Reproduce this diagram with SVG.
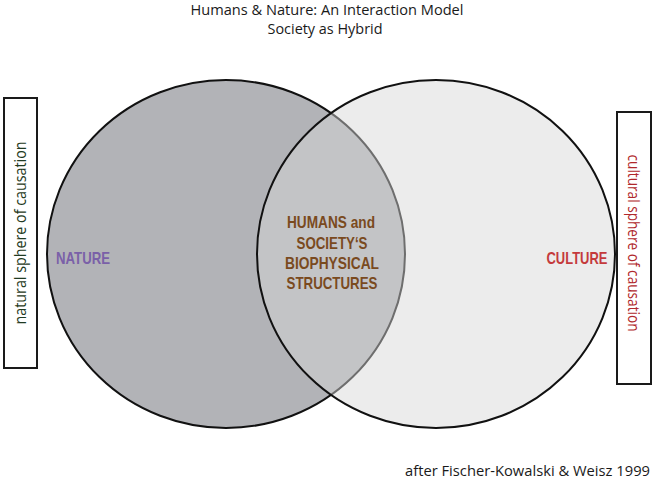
<svg xmlns="http://www.w3.org/2000/svg" width="654" height="481" viewBox="0 0 654 481">
<style>
.t{font-family:"Open Sans","Liberation Sans",sans-serif;font-size:15px;fill:#1a1a1a}
.s{font-family:"Open Sans","Liberation Sans",sans-serif;font-size:16px}
.c{font-family:"Liberation Sans",Arial,sans-serif;font-weight:bold;font-size:17px}
.box{fill:#fff;stroke:#1a1a1a;stroke-width:2}
</style>
<rect width="654" height="481" fill="#fff"/>
<g id="title">
<text class="t" x="327" y="15" text-anchor="middle" textLength="273" lengthAdjust="spacingAndGlyphs">Humans &amp; Nature: An Interaction Model</text>
<text class="t" x="325" y="34" text-anchor="middle" textLength="115" lengthAdjust="spacingAndGlyphs">Society as Hybrid</text>
</g>
<g id="nature">
<ellipse cx="226" cy="254" rx="179" ry="174" fill="#b2b3b7" stroke="#111" stroke-width="2"/>
</g>
<g id="culture">
<ellipse cx="436" cy="254" rx="179" ry="174" fill="#d6d6d6" fill-opacity="0.47" stroke="#111" stroke-width="2"/>
</g>
<g id="nature-label"><text class="c" x="83" y="264" text-anchor="middle" fill="#7a60a8" textLength="54" lengthAdjust="spacingAndGlyphs">NATURE</text></g>
<g id="culture-label"><text class="c" x="577" y="264" text-anchor="middle" fill="#c43a3c" textLength="61" lengthAdjust="spacingAndGlyphs">CULTURE</text></g>
<g id="hybrid" fill="#7a4a1e">
<text class="c" x="331" y="228" text-anchor="middle" textLength="88" lengthAdjust="spacingAndGlyphs">HUMANS and</text>
<text class="c" x="332" y="249" text-anchor="middle" textLength="71" lengthAdjust="spacingAndGlyphs">SOCIETY‘S</text>
<text class="c" x="332" y="269" text-anchor="middle" textLength="94" lengthAdjust="spacingAndGlyphs">BIOPHYSICAL</text>
<text class="c" x="332" y="289" text-anchor="middle" textLength="91" lengthAdjust="spacingAndGlyphs">STRUCTURES</text>
</g>
<g id="natural-sphere">
<rect class="box" x="4" y="98" width="33" height="270"/>
<text class="s" transform="translate(26,233) rotate(-90)" text-anchor="middle" style="fill:#1f3a22" textLength="183" lengthAdjust="spacingAndGlyphs">natural sphere of causation</text>
</g>
<g id="cultural-sphere">
<rect class="box" x="617" y="112" width="34" height="272"/>
<text class="s" transform="translate(628,243) rotate(90)" text-anchor="middle" style="fill:#b0282c" textLength="177" lengthAdjust="spacingAndGlyphs">cultural sphere of causation</text>
</g>
<g id="connectors"></g>
<g id="footer">
<text class="t" x="650" y="476" text-anchor="end" textLength="245" lengthAdjust="spacingAndGlyphs">after Fischer-Kowalski &amp; Weisz 1999</text>
</g>
</svg>
